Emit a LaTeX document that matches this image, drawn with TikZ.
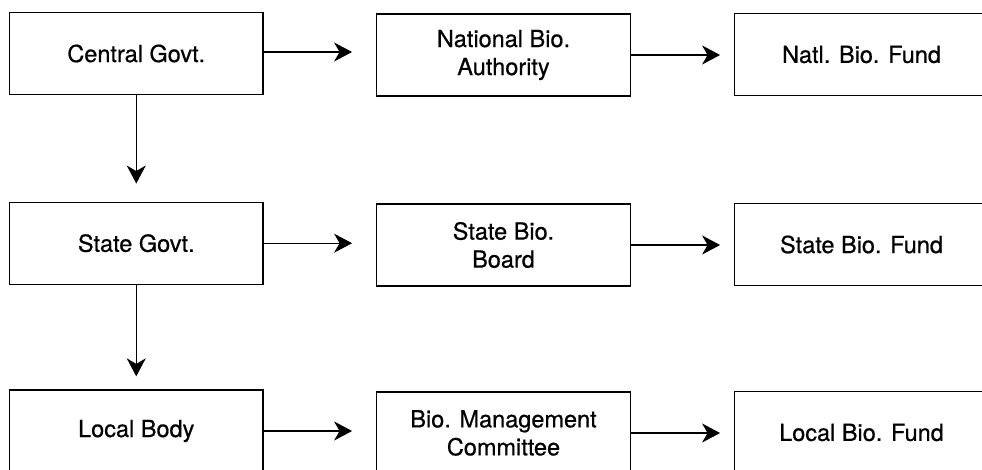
\documentclass[tikz,border=0pt]{standalone}
\usepackage{fontspec}
\setmainfont[FakeBold=0.6]{TeX Gyre Heros}
\usetikzlibrary{arrows.meta}
\begin{document}
\begin{tikzpicture}[x=1pt,y=-1pt,
  box/.style={draw=black, line width=1.3pt, rectangle, inner sep=0pt,
    minimum width=253.5pt, minimum height=82pt, align=center,
    font=\fontsize{23.5}{28}\selectfont},
  conn/.style={line width=1.3pt, -{Stealth[length=18pt,width=19pt,inset=5.5pt]}}]
\useasboundingbox (0,0) rectangle (982,469);
% row 1
\node[box] (cg)  at (136.25,53.5) {Central Govt.};
\node[box] (nba) at (503.5,55)    {National Bio.\\Authority};
\node[box] (nbf) at (861.5,54.5)  {Natl. Bio. Fund};
% row 2
\node[box] (sg)  at (136.25,243.2) {State Govt.};
\node[box] (sbb) at (503.5,245)    {State Bio.\\Board};
\node[box] (sbf) at (861.5,244.5)  {State Bio. Fund};
% row 3
\node[box] (lb)  at (136.25,431) {Local Body};
\node[box] (bmc) at (503.5,433)  {Bio. Management\\Committee};
\node[box] (lbf) at (861.5,432.5) {Local Bio. Fund};
% horizontal connectors
\draw[conn] ([yshift=1.5pt]cg.east)  -- ([xshift=-24pt,yshift=1.5pt]cg.east -| nba.west);
\draw[conn] (nba.east) -- ([xshift=-14pt]nba.east -| nbf.west);
\draw[conn] (sg.east)  -- ([xshift=-24pt]sg.east -| sbb.west);
\draw[conn] (sbb.east) -- ([xshift=-14pt]sbb.east -| sbf.west);
\draw[conn] (lb.east)  -- ([xshift=-24pt]lb.east -| bmc.west);
\draw[conn] (bmc.east) -- ([xshift=-14pt]bmc.east -| lbf.west);
% vertical connectors
\draw[conn] (cg.south) -- ([yshift=18pt]sg.north);
\draw[conn] (sg.south) -- ([yshift=13pt]lb.north);
\end{tikzpicture}
\end{document}
